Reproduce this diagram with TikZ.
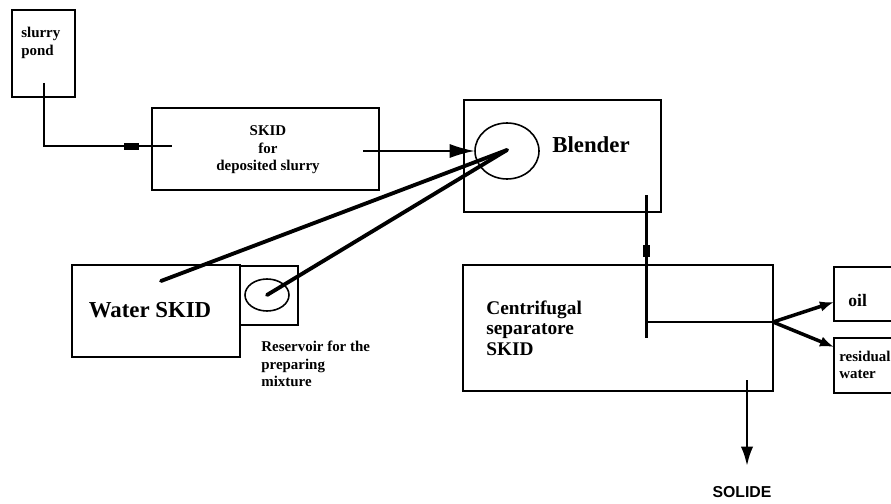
\documentclass[tikz,border=0pt]{standalone}
\usepackage{fontspec}
\setmainfont{Liberation Serif}
\newfontfamily\solidfont{Liberation Sans}
\usetikzlibrary{arrows.meta,shapes.geometric}

\tikzset{
  unit/.style={draw, line width=1.1pt, inner sep=0pt},
  tank/.style={draw, ellipse, line width=0.9pt, inner sep=0pt},
  valve/.style={fill=black, inner sep=0pt},
  pipe/.style={line width=1.7pt},
  feed/.style={line width=2.2pt, line cap=round},
  small/.style={font=\bfseries\fontsize{8.5}{10}\selectfont, inner sep=0pt},
  big/.style={font=\bfseries\fontsize{13}{15}\selectfont, inner sep=0pt}
}

\begin{document}
\begin{tikzpicture}[x=0.02cm, y=-0.02cm]
        \clip (0,0) rectangle (891,503);

        % Units
        \node[unit, minimum width=1.26cm, minimum height=1.74cm] (pond) at (43.5,53.5) {};
        \node[unit, minimum width=4.54cm, minimum height=1.64cm] (skid) at (265.5,149) {};
        \node[unit, minimum width=3.94cm, minimum height=2.24cm] (blender) at (562.5,156) {};
        \node[unit, minimum width=3.36cm, minimum height=1.84cm] (water) at (156,311) {};
        \node[unit, minimum width=1.16cm, minimum height=1.18cm] (reservoir) at (269,295.5) {};
        \node[unit, minimum width=6.2cm, minimum height=2.52cm] (separator) at (618,328) {};
        \node[unit, minimum width=1.32cm, minimum height=1.08cm] (oil) at (867,294) {};
        \node[unit, minimum width=1.32cm, minimum height=1.1cm] (residual) at (867,365.5) {};

        % Tanks
        \node[tank, minimum width=1.28cm, minimum height=1.12cm] (mixer) at (507,151) {};
        \node[tank, minimum width=0.88cm, minimum height=0.64cm] (restank) at (267,295) {};

        % Texts
        \node[small, align=left, anchor=west] (pondtxt) at (21,43) {slurry\\pond};
        \node[small, align=center] (skidtxt) at (268,150) {SKID\\for\\deposited slurry};
        \node[big] (blendertxt) at (591,145) {Blender};
        \node[big] (watertxt) at (150,310) {Water SKID};
        \node[small, align=left, anchor=west] (restxt) at (261,364) {Reservoir for the\\preparing\\mixture};
        \node[inner sep=0pt, align=left, anchor=west, font=\bfseries\fontsize{11}{11.6}\selectfont] (septxt) at (486,328) {Centrifugal\\separatore\\SKID};
        \node[inner sep=0pt, anchor=west, font=\bfseries\fontsize{10}{12}\selectfont] (oiltxt) at (848,300) {oil};
        \node[small, align=left, anchor=west, font=\bfseries\fontsize{8.5}{9.6}\selectfont] (residualtxt) at (839,364.5) {residual\\water};
        \node[inner sep=0pt, font=\solidfont\bfseries\fontsize{9}{11}\selectfont] (solide) at (742,492) {SOLIDE};

        % Points on the pipes
        \coordinate (pondout) at (44,83);
        \coordinate (skidin) at (172,146);
        \coordinate (skidout) at (363,151);
        \coordinate (mix) at (507,150);
        \coordinate (waterout) at (161,281);
        \coordinate (blendout) at (646,195);
        \coordinate (sepend) at (646,338);
        \coordinate (sepjoint) at (646,322);
        \coordinate (sepout) at (773,322);
        \coordinate (oilin) at (834,302);
        \coordinate (residualin) at (834,347);
        \coordinate (solidout) at (747,380);
        \coordinate (solidend) at (747,466);

        % Slurry line
        \draw[pipe] (pondout) |- (skidin);
        \node[valve, minimum width=0.3cm, minimum height=0.13cm] (valve1) at (131,146.5) {};
        \draw[line width=0.6pt, -{Latex[length=14pt, width=8pt]}] (skidout) -- (mixer.west);

        % Water feed
        \draw[feed] (waterout) -- (mix);
        \draw[feed] (restank.center) -- (mix);

        % To the separator
        \draw[pipe] (blendout) -- (sepend);
        \node[valve, minimum width=0.14cm, minimum height=0.24cm] (valve2) at (646.5,251) {};
        \draw[pipe] (sepjoint) -- (sepout);

        % Outputs
        \draw[line width=2pt, -{Latex[length=8pt, width=6pt]}] (sepout) -- (oilin);
        \draw[line width=2pt, -{Latex[length=8pt, width=6pt]}] (sepout) -- (residualin);
        \draw[line width=1.5pt, -{Latex[length=11pt, width=7pt]}] (solidout) -- (solidend);
    \end{tikzpicture}
\end{document}
